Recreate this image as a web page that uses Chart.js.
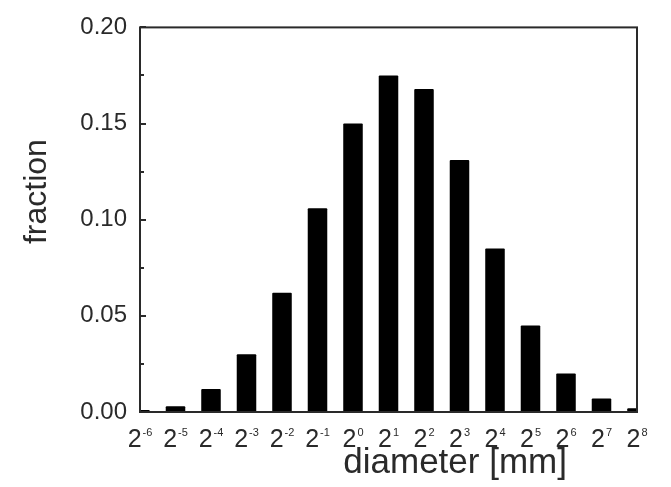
<!DOCTYPE html>
<html>
<head>
<meta charset="utf-8">
<script src="https://cdn.jsdelivr.net/npm/chart.js@4.4.1/dist/chart.umd.min.js"></script>
<style>
  body { margin: 0; background: #fff; }
</style>
</head>
<body>
<canvas id="sizeChart" width="671" height="487"></canvas>
<script>
// size classes are powers of two (mm); bars sit on the exponent
const exponents = [-6, -5, -4, -3, -2, -1, 0, 1, 2, 3, 4, 5, 6, 7, 8];
const fraction = [0.001, 0.003, 0.012, 0.030, 0.062, 0.106, 0.150, 0.175, 0.168, 0.131, 0.085, 0.045, 0.020, 0.007, 0.002];
const yTicks = [0, 0.05, 0.10, 0.15, 0.20];
const yMinorTicks = [0.025, 0.075, 0.125, 0.175];

const ink = '#2a2a2a';
const family = '"Liberation Sans", Arial, sans-serif';

// box frame, inward ticks, 2^n labels and axis titles
const framePlugin = {
  id: 'frame',
  afterDraw(chart) {
    const { ctx, chartArea: a, scales: { x, y } } = chart;
    ctx.save();
    ctx.strokeStyle = ink;
    ctx.lineWidth = 2;
    ctx.strokeRect(a.left, a.top, a.right - a.left, a.bottom - a.top);

    ctx.beginPath();
    yTicks.forEach(v => {
      const py = Math.round(y.getPixelForValue(v));
      ctx.moveTo(a.left, py);
      ctx.lineTo(a.left + 6, py);
    });
    yMinorTicks.forEach(v => {
      const py = Math.round(y.getPixelForValue(v));
      ctx.moveTo(a.left, py);
      ctx.lineTo(a.left + 4, py);
    });
    ctx.stroke();

    ctx.fillStyle = ink;
    ctx.textBaseline = 'alphabetic';
    ctx.textAlign = 'left';
    exponents.forEach(e => {
      const px = x.getPixelForValue(e);
      const exp = String(e);
      ctx.font = '25px ' + family;
      const wBase = ctx.measureText('2').width;
      ctx.font = '11px ' + family;
      const wExp = ctx.measureText(exp).width;
      const start = px - (wBase + 1 + wExp) / 2;
      ctx.font = '25px ' + family;
      ctx.fillText('2', start, a.bottom + 35);
      ctx.font = '11px ' + family;
      ctx.fillText(exp, start + wBase + 1, a.bottom + 24);
    });

    ctx.font = '35px ' + family;
    ctx.textAlign = 'center';
    ctx.fillText('diameter [mm]', a.left + (a.right - a.left) * 0.634, a.bottom + 61);

    ctx.translate(37, a.top + (a.bottom - a.top) * 0.427);
    ctx.rotate(-Math.PI / 2);
    ctx.textBaseline = 'middle';
    ctx.font = '32px ' + family;
    ctx.fillText('fraction', 0, 0);
    ctx.restore();
  }
};

new Chart(document.getElementById('sizeChart'), {
  type: 'bar',
  data: {
    datasets: [{
      data: exponents.map((e, i) => ({ x: e, y: fraction[i] })),
      backgroundColor: '#000',
      barPercentage: 0.55,
      categoryPercentage: 1,
      borderRadius: 1,
      clip: 0
    }]
  },
  options: {
    responsive: false,
    animation: false,
    layout: { padding: { top: 26, right: 34, left: 0, bottom: 0 } },
    plugins: { legend: { display: false }, tooltip: { enabled: false } },
    scales: {
      x: {
        type: 'linear',
        min: -6,
        max: 8,
        offset: false,
        grid: { display: false, drawTicks: false },
        border: { display: false },
        ticks: { display: false },
        afterFit(scale) { scale.height = 75; }
      },
      y: {
        min: 0,
        max: 0.2,
        grid: { display: false, drawTicks: false },
        border: { display: false },
        afterBuildTicks(scale) { scale.ticks = yTicks.map(v => ({ value: v })); },
        ticks: {
          padding: 13,
          color: ink,
          font: { family: family, size: 24 },
          callback: v => v.toFixed(2)
        },
        afterFit(scale) { scale.width = 140; }
      }
    }
  },
  plugins: [framePlugin]
});
</script>
</body>
</html>
